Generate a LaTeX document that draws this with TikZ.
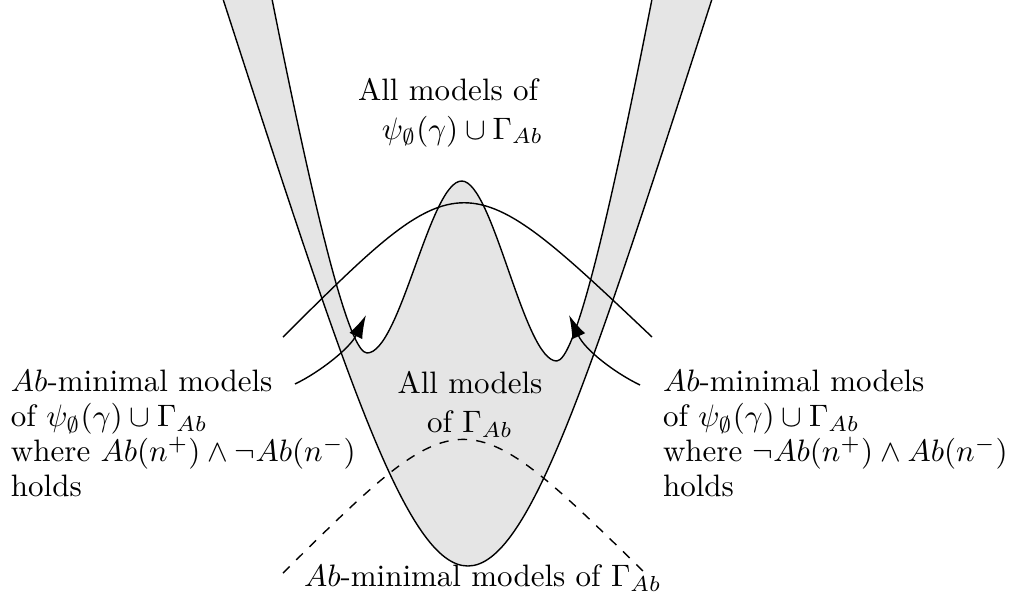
\documentclass[tikz,border=0pt]{standalone}
\usetikzlibrary{arrows.meta}
\begin{document}
\begin{tikzpicture}[x=0.3226pt,y=-0.3226pt,
  lbl/.style={inner sep=0pt, outer sep=0pt},
  region/.style={fill=gray!20, even odd rule},
  boundary/.style={draw=black, line width=0.45pt},
  pointer/.style={draw=black, line width=0.45pt, -{Latex[length=7.5pt,width=4.6pt]}}]
\useasboundingbox (0,0) rectangle (1013,601);
\begin{scope}
\clip (0,0) rectangle (1013,601);
% shaded band between outer U and inner W
\fill[region] (223,-1) .. controls (468,755) and (468,755) .. (712,-1) -- cycle
  (272,-1) .. controls (318,230) and (350,353) .. (367,353)
  .. controls (400,353) and (430,181) .. (461.7,181)
  .. controls (493,181) and (524,361) .. (556.7,361)
  .. controls (574,361) and (606,235) .. (652,-1) -- cycle;
\draw[boundary] (223,-1) .. controls (468,755) and (468,755) .. (712,-1);
\draw[boundary] (272,-1) .. controls (318,230) and (350,353) .. (367,353)
  .. controls (400,353) and (430,181) .. (461.7,181)
  .. controls (493,181) and (524,361) .. (556.7,361)
  .. controls (574,361) and (606,235) .. (652,-1);
\end{scope}
% arcs
\coordinate (arcL) at (283,337);
\coordinate (arcR) at (652,337);
\draw[boundary] (arcL) .. controls (463,158) and (463,158) .. (arcR);
\coordinate (dashL) at (283,573);
\coordinate (dashR) at (644,572);
\draw[boundary, dashed] (dashL) .. controls (463,395) and (463,395) .. (dashR);
% labels
\node[lbl, anchor=north west, align=left, font=\fontsize{10}{12.4}\selectfont] (top) at (358,78.5)
  {All models of\\\hspace*{7.7pt}$\psi_\emptyset(\gamma)\cup\Gamma_{Ab}$};
\node[lbl, anchor=north, align=center, font=\fontsize{10}{12.5}\selectfont] (mid) at (470,371.5)
  {All models\\of $\Gamma_{Ab}$};
\node[lbl, anchor=north west, align=left, font=\fontsize{10}{11.3}\selectfont] (left) at (11,370.2)
  {$Ab$-minimal models\\of $\psi_\emptyset(\gamma)\cup\Gamma_{Ab}$\\where $Ab(n^+)\wedge\neg Ab(n^-)$\\holds};
\node[lbl, anchor=north west, align=left, font=\fontsize{10}{11.3}\selectfont] (right) at (663,370.2)
  {$Ab$-minimal models\\of $\psi_\emptyset(\gamma)\cup\Gamma_{Ab}$\\where $\neg Ab(n^+)\wedge Ab(n^-)$\\holds};
\node[lbl, anchor=base west] (bot) at (304,586.7) {$Ab$-minimal models of $\Gamma_{Ab}$};
% pointers
\coordinate (lt) at (295,384);
\coordinate (lh) at (366,315);
\draw[pointer] (lt) .. controls (320,372) and (350,348) .. (lh);
\coordinate (rt) at (640,385);
\coordinate (rh) at (569,315);
\draw[pointer] (rt) .. controls (615,373) and (585,350) .. (rh);
\end{tikzpicture}
\end{document}
